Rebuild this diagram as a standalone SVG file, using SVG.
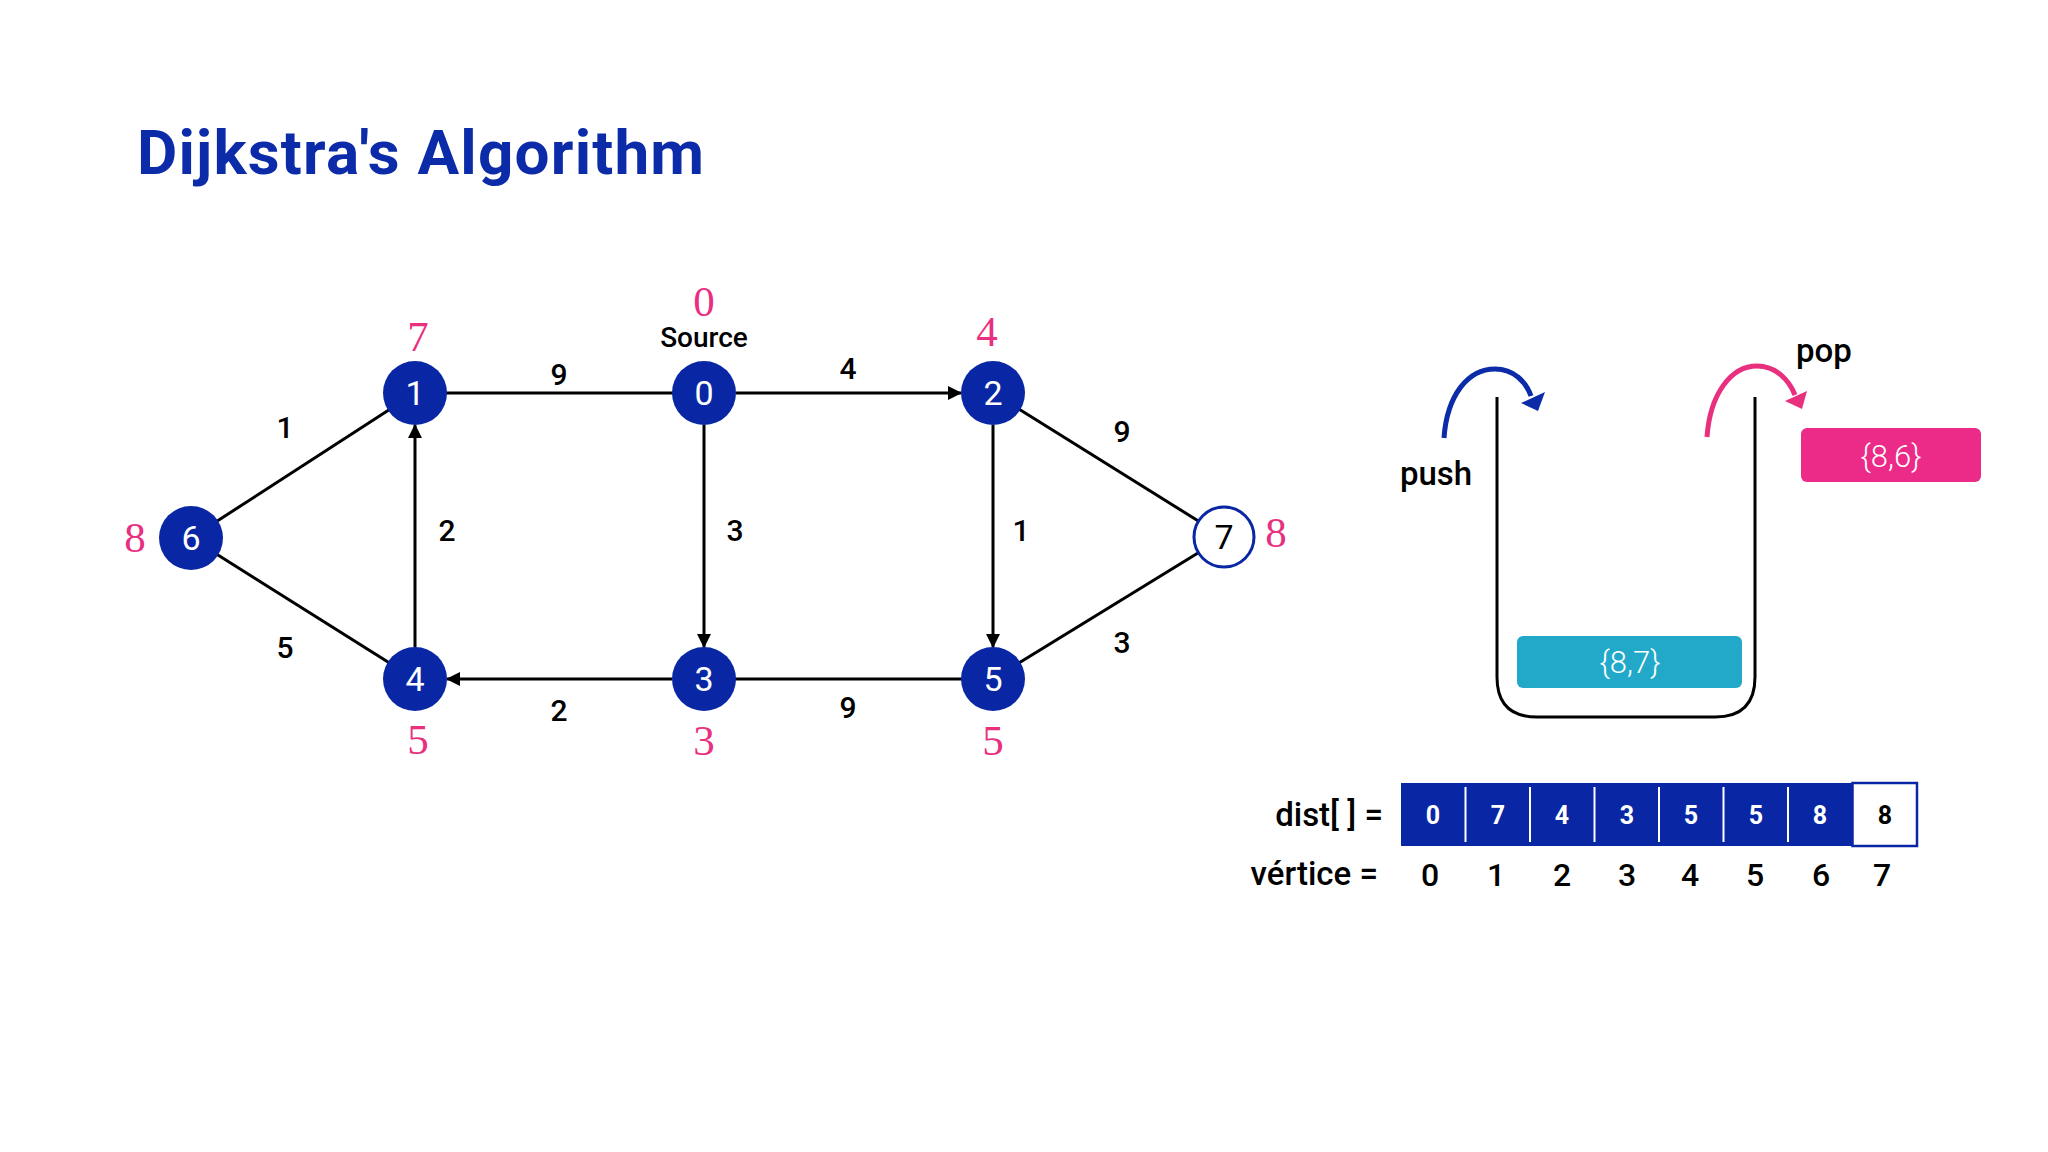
<svg xmlns="http://www.w3.org/2000/svg" width="2048" height="1152" viewBox="0 0 2048 1152">
<style>
.edge{stroke:#000;stroke-width:3;fill:none}
.node{fill:#0927a5}
.nlabel{font-family:Roboto,"Liberation Sans",sans-serif;font-size:34px;fill:#fff;text-anchor:middle}
.dist{font-family:"Liberation Serif",serif;font-size:43px;fill:#e9307f;text-anchor:middle}
.w{font-family:Roboto,"Liberation Sans",sans-serif;font-weight:500;font-size:30px;fill:#000;text-anchor:middle}
.lbl{font-family:Roboto,"Liberation Sans",sans-serif;font-weight:500;fill:#000}
.cell{font-family:Roboto,"Liberation Sans",sans-serif;font-weight:700;font-size:25px;fill:#fff;text-anchor:middle}
.vx{font-family:Roboto,"Liberation Sans",sans-serif;font-weight:500;font-size:32px;fill:#000;text-anchor:middle}
.box{font-family:Roboto,"Liberation Sans",sans-serif;font-weight:300;font-size:31px;fill:#fff;text-anchor:middle}
</style>
<defs>
<marker id="arr" markerWidth="14" markerHeight="14" refX="13" refY="7" orient="auto" markerUnits="userSpaceOnUse">
<path d="M0,0 L14,7 L0,14 z" fill="#000"/>
</marker>
</defs>
<rect width="2048" height="1152" fill="#fff"/>
<text x="137" y="174" font-family="Roboto,'Liberation Sans',sans-serif" font-weight="700" font-size="62" letter-spacing="1.2" fill="#0b2ba8">Dijkstra's Algorithm</text>

<g id="connectors">
<line class="edge" x1="191" y1="538" x2="415" y2="393"/>
<line class="edge" x1="191" y1="538" x2="415" y2="679"/>
<line class="edge" x1="415" y1="393" x2="704" y2="393"/>
<line class="edge" x1="736" y1="393" x2="961" y2="393" marker-end="url(#arr)"/>
<line class="edge" x1="704" y1="425" x2="704" y2="647" marker-end="url(#arr)"/>
<line class="edge" x1="993" y1="425" x2="993" y2="647" marker-end="url(#arr)"/>
<line class="edge" x1="415" y1="647" x2="415" y2="425" marker-end="url(#arr)"/>
<line class="edge" x1="672" y1="679" x2="447" y2="679" marker-end="url(#arr)"/>
<line class="edge" x1="704" y1="679" x2="993" y2="679"/>
<line class="edge" x1="993" y1="393" x2="1224" y2="537"/>
<line class="edge" x1="993" y1="679" x2="1224" y2="537"/>
<text class="w" x="559" y="385">9</text>
<text class="w" x="848" y="379">4</text>
<text class="w" x="285" y="438">1</text>
<text class="w" x="447" y="541">2</text>
<text class="w" x="735" y="541">3</text>
<text class="w" x="1021" y="541">1</text>
<text class="w" x="1122" y="442">9</text>
<text class="w" x="285" y="658">5</text>
<text class="w" x="559" y="721">2</text>
<text class="w" x="848" y="718">9</text>
<text class="w" x="1122" y="653">3</text>
</g>

<g id="node0"><circle class="node" cx="704" cy="393" r="32"/><text class="nlabel" x="704" y="405">0</text><text class="dist" x="704" y="316">0</text><text class="lbl" x="704" y="347" font-size="28" text-anchor="middle">Source</text></g>
<g id="node1"><circle class="node" cx="415" cy="393" r="32"/><text class="nlabel" x="415" y="405">1</text><text class="dist" x="418" y="351">7</text></g>
<g id="node2"><circle class="node" cx="993" cy="393" r="32"/><text class="nlabel" x="993" y="405">2</text><text class="dist" x="987" y="346">4</text></g>
<g id="node3"><circle class="node" cx="704" cy="679" r="32"/><text class="nlabel" x="704" y="691">3</text><text class="dist" x="704" y="755">3</text></g>
<g id="node4"><circle class="node" cx="415" cy="679" r="32"/><text class="nlabel" x="415" y="691">4</text><text class="dist" x="418" y="754">5</text></g>
<g id="node5"><circle class="node" cx="993" cy="679" r="32"/><text class="nlabel" x="993" y="691">5</text><text class="dist" x="993" y="755">5</text></g>
<g id="node6"><circle class="node" cx="191" cy="538" r="32"/><text class="nlabel" x="191" y="550">6</text><text class="dist" x="135" y="552">8</text></g>
<g id="node7"><circle cx="1224" cy="537" r="30" fill="#fff" stroke="#0927a5" stroke-width="3"/><text class="nlabel" x="1224" y="549" style="fill:#000">7</text><text class="dist" x="1276" y="547">8</text></g>

<g id="stack">
<path d="M1497,397 V677 Q1497,717 1537,717 H1715 Q1755,717 1755,677 V397" fill="none" stroke="#000" stroke-width="3"/>
<rect x="1517" y="636" width="225" height="52" rx="6" fill="#22a9c9"/>
<text class="box" x="1630" y="673">{8,7}</text>
</g>

<g id="push">
<path d="M1444,438 C1447,395 1468,369 1495,369 C1514,369 1526,382 1531,396" fill="none" stroke="#0b2ba8" stroke-width="5"/>
<polygon points="1538,411 1521,403 1545,392" fill="#0b2ba8"/>
<text class="lbl" x="1436" y="485" font-size="33" text-anchor="middle">push</text>
</g>

<g id="pop">
<path d="M1707,437 C1710,394 1731,366 1757,366 C1776,366 1789,380 1795,395" fill="none" stroke="#e9307f" stroke-width="5"/>
<polygon points="1802,409 1785,401 1807,391" fill="#e9307f"/>
<text class="lbl" x="1824" y="362" font-size="33" text-anchor="middle">pop</text>
<rect x="1801" y="428" width="180" height="54" rx="6" fill="#ec2a87"/>
<text class="box" x="1891" y="467">{8,6}</text>
</g>

<g id="dist-array">
<text class="lbl" x="1383" y="826" font-size="33" text-anchor="end">dist[ ] =</text>
<text class="lbl" x="1378" y="885" font-size="33" text-anchor="end">vértice =</text>
<rect x="1401" y="783" width="451.5" height="63" fill="#0927a5"/>
<rect x="1852.5" y="783" width="64.5" height="63" fill="#fff" stroke="#0927a5" stroke-width="2.5"/>
<g stroke="#fff" stroke-width="2">
<line x1="1465.5" y1="787" x2="1465.5" y2="842"/>
<line x1="1530" y1="787" x2="1530" y2="842"/>
<line x1="1594.5" y1="787" x2="1594.5" y2="842"/>
<line x1="1659" y1="787" x2="1659" y2="842"/>
<line x1="1723.5" y1="787" x2="1723.5" y2="842"/>
<line x1="1788" y1="787" x2="1788" y2="842"/>
</g>
<text class="cell" x="1433" y="824">0</text>
<text class="cell" x="1498" y="824">7</text>
<text class="cell" x="1562" y="824">4</text>
<text class="cell" x="1627" y="824">3</text>
<text class="cell" x="1691" y="824">5</text>
<text class="cell" x="1756" y="824">5</text>
<text class="cell" x="1820" y="824">8</text>
<text class="cell" x="1885" y="824" style="fill:#000">8</text>
<text class="vx" x="1430" y="886">0</text>
<text class="vx" x="1496" y="886">1</text>
<text class="vx" x="1562" y="886">2</text>
<text class="vx" x="1627" y="886">3</text>
<text class="vx" x="1690" y="886">4</text>
<text class="vx" x="1755" y="886">5</text>
<text class="vx" x="1821" y="886">6</text>
<text class="vx" x="1882" y="886">7</text>
</g>
</svg>
